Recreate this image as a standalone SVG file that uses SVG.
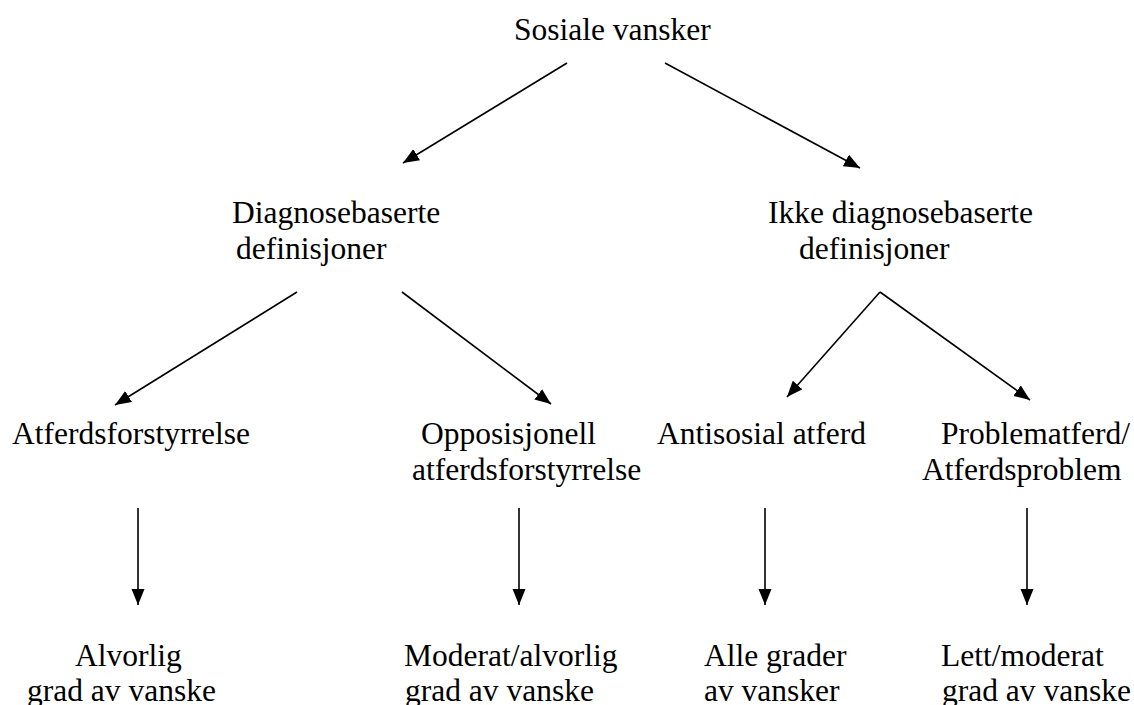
<svg xmlns="http://www.w3.org/2000/svg" width="1134" height="705" viewBox="0 0 1134 705">
<defs>
<style>
text{font-family:"Liberation Serif","Times New Roman",serif;font-size:31.5px;fill:#000}
.c{stroke:#000;stroke-width:1.6;fill:none;marker-end:url(#ah)}
</style>
<marker id="ah" markerUnits="userSpaceOnUse" markerWidth="18" markerHeight="14" refX="16" refY="6.5" orient="auto">
<path d="M0,0 L16,6.5 L0,13 z" fill="#000"/>
</marker>
</defs>
<rect width="1134" height="705" fill="#fff"/>
<g id="connectors">
<line class="c" x1="567" y1="63" x2="403" y2="163"/>
<line class="c" x1="665" y1="63" x2="860" y2="168"/>
<line class="c" x1="297" y1="292" x2="115" y2="405"/>
<line class="c" x1="402" y1="292" x2="551" y2="404"/>
<line class="c" x1="880" y1="292" x2="787" y2="397"/>
<line class="c" x1="880" y1="292" x2="1030" y2="400"/>
<line class="c" x1="138" y1="508" x2="138" y2="605"/>
<line class="c" x1="519" y1="508" x2="519" y2="605"/>
<line class="c" x1="765" y1="508" x2="765" y2="605"/>
<line class="c" x1="1027" y1="508" x2="1027" y2="605"/>
</g>
<g id="n-sosiale"><text x="514" y="40">Sosiale vansker</text></g>
<g id="n-diag"><text x="232" y="223">Diagnosebaserte</text><text x="236" y="259">definisjoner</text></g>
<g id="n-ikke"><text x="768" y="223">Ikke diagnosebaserte</text><text x="799" y="259">definisjoner</text></g>
<g id="n-atferd"><text x="12" y="444">Atferdsforstyrrelse</text></g>
<g id="n-oppos"><text x="421" y="444">Opposisjonell</text><text x="412" y="480">atferdsforstyrrelse</text></g>
<g id="n-antisosial"><text x="657" y="444">Antisosial atferd</text></g>
<g id="n-problem"><text x="941" y="444">Problematferd/</text><text x="922" y="480">Atferdsproblem</text></g>
<g id="n-alvorlig"><text x="75" y="666">Alvorlig</text><text x="27" y="701">grad av vanske</text></g>
<g id="n-moderat"><text x="404" y="666">Moderat/alvorlig</text><text x="405" y="701">grad av vanske</text></g>
<g id="n-alle"><text x="704" y="666">Alle grader</text><text x="704" y="701">av vansker</text></g>
<g id="n-lett"><text x="941" y="666">Lett/moderat</text><text x="942" y="701">grad av vanske</text></g>
</svg>
